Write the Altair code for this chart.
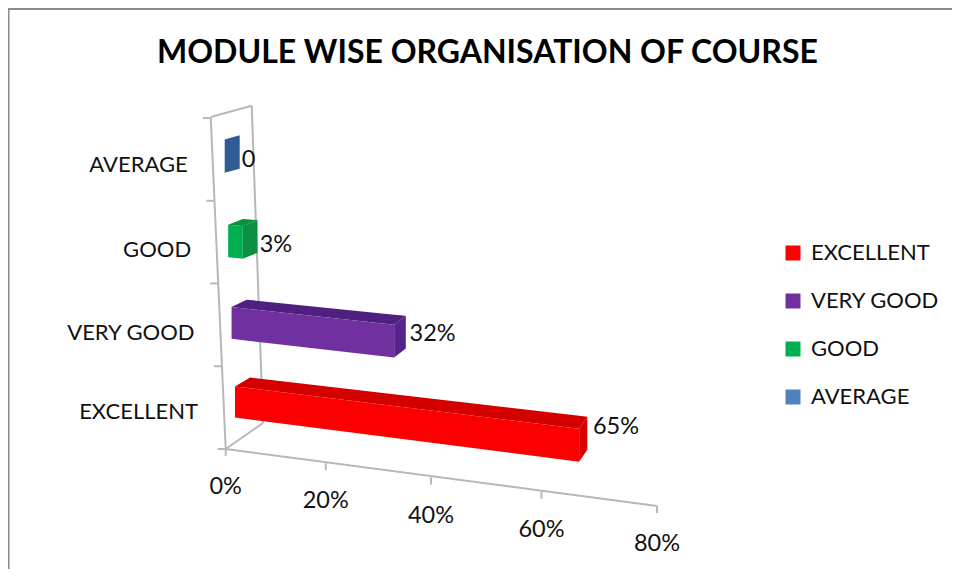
import altair as alt
import pandas as pd

categories = ["EXCELLENT", "VERY GOOD", "GOOD", "AVERAGE"]
values = [65, 32, 3, 0]
value_labels = ["65%", "32%", "3%", "0"]
axis_ticks = [0, 20, 40, 60, 80]
title_text = "MODULE WISE ORGANISATION OF COURSE"
legend_colors = ["#fa0000", "#7030a0", "#00b050", "#4f81bd"]
top_colors = ["#d40000", "#502080", "#0a8f3e", "#2f5c94"]
side_colors = ["#d80000", "#56238c", "#0a9040", "#2f5c94"]

FONT = "Lato"
GRAY = "#b8b8b8"


# Projection of the 3-D chart onto the picture
def fx(v):
    return 4.874 * v + 0.00647 * v * v


def bar_corner(i, v):
    x = 235 - 3.43 * i + fx(v)
    y = 386.5 - 78 * i - 1.45 * i * i + (0.65 - 0.1 * i) * v
    h = 31 + 0.8 * i + 0.03 * v
    return x, y, h


def depth(i, v):
    return 15 - 0.105 * v, -(9 - 1.6 * i) - 0.045 * v


def poly_rows(poly, face, **extra):
    rows = []
    xs = sorted({round(p[0], 2) for p in poly})
    n = len(poly)
    for x in xs:
        ys = []
        for k in range(n):
            (x1, y1), (x2, y2) = poly[k], poly[(k + 1) % n]
            x1, x2 = round(x1, 2), round(x2, 2)
            if min(x1, x2) <= x <= max(x1, x2):
                if x1 == x2:
                    ys += [y1, y2]
                else:
                    ys.append(y1 + (y2 - y1) * (x - x1) / (x2 - x1))
        rows.append(dict(px=x, py=min(ys), py2=max(ys), face=face, **extra))
    return rows


front_rows, other_rows = [], []
for i in reversed(range(len(categories))):
    c, v = categories[i], values[i]
    x0, y0, h0 = bar_corner(i, 0)
    x1, y1, h1 = bar_corner(i, v)
    d0x, d0y = depth(i, 0)
    d1x, d1y = depth(i, v)
    if v > 0:
        other_rows += poly_rows(
            [(x0, y0), (x1, y1), (x1 + d1x, y1 + d1y), (x0 + d0x, y0 + d0y)],
            f"top{i}", fill=top_colors[i], value=v)
    other_rows += poly_rows(
        [(x1, y1), (x1 + d1x, y1 + d1y), (x1 + d1x, y1 + d1y + h1), (x1, y1 + h1)],
        f"side{i}", fill=side_colors[i], value=v)
    front_rows += poly_rows(
        [(x0, y0), (x1, y1), (x1, y1 + h1), (x0, y0 + h0)],
        f"front{i}", category=c, value=v)

ORIGIN = (225.7, 449.0)
def axis_pt(v):
    return ORIGIN[0] + fx(v), ORIGIN[1] + 0.7125 * v


line_rows = [
    (210.7, 117, 225.7, 449), (210.7, 117, 251.7, 105.7),
    (251.7, 105.7, 263, 423), (225.7, 449, 263, 423),
    (225.7, 449, axis_pt(80)[0], axis_pt(80)[1]),
]
for t in axis_ticks:
    px, py = axis_pt(t)
    line_rows.append((px, py, px, py + 7))
for i in range(5):
    py = 449 - 82.75 * i
    px = 225.7 - (449 - py) * 15 / 332
    line_rows.append((px - 8, py, px, py))
lines = pd.DataFrame(line_rows, columns=["px", "py", "px2", "py2"])

tick_text = pd.DataFrame(
    [{"px": axis_pt(t)[0], "py": axis_pt(t)[1] + 38, "label": f"{t}%"} for t in axis_ticks]
)
cat_text = pd.DataFrame(
    [{"px": bar_corner(i, 0)[0] - 37, "py": bar_corner(i, 0)[1] + 25.5, "label": categories[i]}
     for i in range(len(categories))]
)
val_text = pd.DataFrame(
    [{"px": bar_corner(i, values[i])[0] + 17 - 0.05 * values[i],
      "py": bar_corner(i, 0)[1] + 20.5 + 0.08 * values[i] + 0.0035 * values[i] ** 2,
      "label": value_labels[i]} for i in range(len(categories))]
)

X = alt.X("px:Q", scale=alt.Scale(domain=[8, 952], nice=False, zero=False), axis=None)
Y = alt.Y("py:Q", scale=alt.Scale(domain=[569, 8], nice=False, zero=False), axis=None)
Y2 = alt.Y2("py2:Q")

frame_top = alt.Chart(pd.DataFrame({"a": [0]})).mark_rule(color="#8c8c8c", strokeWidth=2).encode(
    x=alt.value(0), x2=alt.value(944), y=alt.value(1))
frame_left = alt.Chart(pd.DataFrame({"a": [0]})).mark_rule(color="#8c8c8c", strokeWidth=2).encode(
    y=alt.value(0), y2=alt.value(561), x=alt.value(0.5))

rules = alt.Chart(lines).mark_rule(color=GRAY, strokeWidth=2).encode(
    x=X, y=Y, x2="px2:Q", y2=Y2)

others = alt.Chart(pd.DataFrame(other_rows)).mark_area(interpolate="linear").encode(
    x=X, y=Y, y2=Y2, detail="face:N",
    color=alt.Color("fill:N", scale=None))

fronts = alt.Chart(pd.DataFrame(front_rows)).mark_area(interpolate="linear").encode(
    x=X, y=Y, y2=Y2, detail="face:N",
    fill=alt.Fill(
        "category:N",
        sort=categories,
        scale=alt.Scale(domain=categories, range=legend_colors),
        legend=alt.Legend(
            title=None, orient="none", legendX=774, legendY=234,
            symbolType="square", symbolSize=225, symbolStrokeWidth=0,
            labelFont=FONT, labelFontSize=22, labelColor="#111111",
            labelOffset=7, rowPadding=26, symbolOffset=0,
        ),
    ),
)


def text_layer(df, align, size=22):
    return alt.Chart(df).mark_text(
        font=FONT, fontSize=size, color="#111111", align=align, baseline="middle"
    ).encode(x=X, y=Y, text="label:N")


chart = (
    alt.layer(
        frame_top, frame_left, rules, others, fronts,
        text_layer(tick_text, "center", 23.5),
        text_layer(cat_text, "right"),
        text_layer(val_text, "left", 23.5),
    )
    .resolve_scale(color="independent", fill="independent")
    .properties(
        width=944,
        height=561,
        autosize=alt.AutoSizeParams(type="none"),
        padding=0,
        title=alt.TitleParams(
            title_text, font=FONT, fontSize=32, fontWeight="bold", color="#000000",
            anchor="start", offset=0, dx=150, dy=88, baseline="alphabetic",
        ),
    )
    .configure_view(stroke=None)
)

chart.save("out.html", embed_options={"renderer": "svg", "actions": False})
